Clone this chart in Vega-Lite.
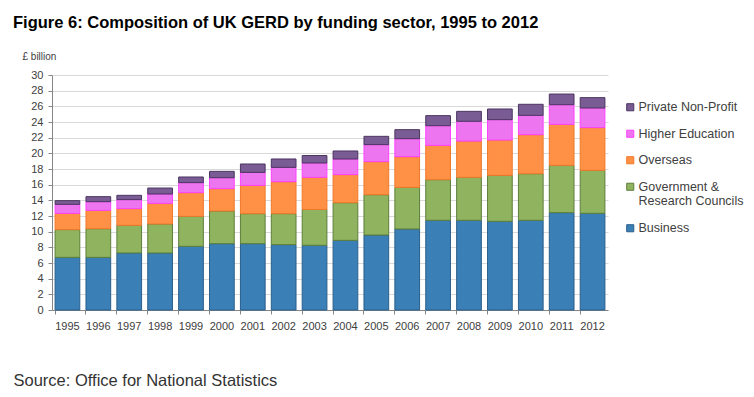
{
  "$schema": "https://vega.github.io/schema/vega-lite/v6.json",
  "width": 556,
  "height": 235,
  "autosize": "none",
  "padding": {"left": 52, "top": 75, "right": 146, "bottom": 87},
  "background": "#ffffff",
  "title": {
    "text": "Figure 6: Composition of UK GERD by funding sector, 1995 to 2012",
    "anchor": "start",
    "frame": "group",
    "dx": -39,
    "offset": 20,
    "font": "Liberation Sans",
    "fontSize": 16.5,
    "fontWeight": "bold",
    "color": "#000000"
  },
  "config": {
    "view": {"stroke": null},
    "font": "Liberation Sans"
  },
  "data": {
    "values": [
      {"year": "1995", "sector": "Business", "rank": 1, "value": 6.72},
      {"year": "1995", "sector": "Government & Research Councils", "rank": 2, "value": 3.54},
      {"year": "1995", "sector": "Overseas", "rank": 3, "value": 2.08},
      {"year": "1995", "sector": "Higher Education", "rank": 4, "value": 1.15},
      {"year": "1995", "sector": "Private Non-Profit", "rank": 5, "value": 0.47},
      {"year": "1996", "sector": "Business", "rank": 1, "value": 6.72},
      {"year": "1996", "sector": "Government & Research Councils", "rank": 2, "value": 3.66},
      {"year": "1996", "sector": "Overseas", "rank": 3, "value": 2.34},
      {"year": "1996", "sector": "Higher Education", "rank": 4, "value": 1.11},
      {"year": "1996", "sector": "Private Non-Profit", "rank": 5, "value": 0.64},
      {"year": "1997", "sector": "Business", "rank": 1, "value": 7.28},
      {"year": "1997", "sector": "Government & Research Councils", "rank": 2, "value": 3.53},
      {"year": "1997", "sector": "Overseas", "rank": 3, "value": 2.13},
      {"year": "1997", "sector": "Higher Education", "rank": 4, "value": 1.15},
      {"year": "1997", "sector": "Private Non-Profit", "rank": 5, "value": 0.55},
      {"year": "1998", "sector": "Business", "rank": 1, "value": 7.28},
      {"year": "1998", "sector": "Government & Research Councils", "rank": 2, "value": 3.70},
      {"year": "1998", "sector": "Overseas", "rank": 3, "value": 2.64},
      {"year": "1998", "sector": "Higher Education", "rank": 4, "value": 1.19},
      {"year": "1998", "sector": "Private Non-Profit", "rank": 5, "value": 0.76},
      {"year": "1999", "sector": "Business", "rank": 1, "value": 8.13},
      {"year": "1999", "sector": "Government & Research Councils", "rank": 2, "value": 3.83},
      {"year": "1999", "sector": "Overseas", "rank": 3, "value": 3.02},
      {"year": "1999", "sector": "Higher Education", "rank": 4, "value": 1.28},
      {"year": "1999", "sector": "Private Non-Profit", "rank": 5, "value": 0.72},
      {"year": "2000", "sector": "Business", "rank": 1, "value": 8.47},
      {"year": "2000", "sector": "Government & Research Councils", "rank": 2, "value": 4.17},
      {"year": "2000", "sector": "Overseas", "rank": 3, "value": 2.85},
      {"year": "2000", "sector": "Higher Education", "rank": 4, "value": 1.40},
      {"year": "2000", "sector": "Private Non-Profit", "rank": 5, "value": 0.81},
      {"year": "2001", "sector": "Business", "rank": 1, "value": 8.47},
      {"year": "2001", "sector": "Government & Research Councils", "rank": 2, "value": 3.83},
      {"year": "2001", "sector": "Overseas", "rank": 3, "value": 3.61},
      {"year": "2001", "sector": "Higher Education", "rank": 4, "value": 1.66},
      {"year": "2001", "sector": "Private Non-Profit", "rank": 5, "value": 1.07},
      {"year": "2002", "sector": "Business", "rank": 1, "value": 8.34},
      {"year": "2002", "sector": "Government & Research Councils", "rank": 2, "value": 3.96},
      {"year": "2002", "sector": "Overseas", "rank": 3, "value": 4.08},
      {"year": "2002", "sector": "Higher Education", "rank": 4, "value": 1.83},
      {"year": "2002", "sector": "Private Non-Profit", "rank": 5, "value": 1.07},
      {"year": "2003", "sector": "Business", "rank": 1, "value": 8.26},
      {"year": "2003", "sector": "Government & Research Councils", "rank": 2, "value": 4.57},
      {"year": "2003", "sector": "Overseas", "rank": 3, "value": 4.11},
      {"year": "2003", "sector": "Higher Education", "rank": 4, "value": 1.83},
      {"year": "2003", "sector": "Private Non-Profit", "rank": 5, "value": 0.95},
      {"year": "2004", "sector": "Business", "rank": 1, "value": 8.89},
      {"year": "2004", "sector": "Government & Research Councils", "rank": 2, "value": 4.81},
      {"year": "2004", "sector": "Overseas", "rank": 3, "value": 3.58},
      {"year": "2004", "sector": "Higher Education", "rank": 4, "value": 2.00},
      {"year": "2004", "sector": "Private Non-Profit", "rank": 5, "value": 1.02},
      {"year": "2005", "sector": "Business", "rank": 1, "value": 9.57},
      {"year": "2005", "sector": "Government & Research Councils", "rank": 2, "value": 5.15},
      {"year": "2005", "sector": "Overseas", "rank": 3, "value": 4.22},
      {"year": "2005", "sector": "Higher Education", "rank": 4, "value": 2.17},
      {"year": "2005", "sector": "Private Non-Profit", "rank": 5, "value": 1.06},
      {"year": "2006", "sector": "Business", "rank": 1, "value": 10.34},
      {"year": "2006", "sector": "Government & Research Councils", "rank": 2, "value": 5.32},
      {"year": "2006", "sector": "Overseas", "rank": 3, "value": 3.91},
      {"year": "2006", "sector": "Higher Education", "rank": 4, "value": 2.30},
      {"year": "2006", "sector": "Private Non-Profit", "rank": 5, "value": 1.15},
      {"year": "2007", "sector": "Business", "rank": 1, "value": 11.45},
      {"year": "2007", "sector": "Government & Research Councils", "rank": 2, "value": 5.19},
      {"year": "2007", "sector": "Overseas", "rank": 3, "value": 4.38},
      {"year": "2007", "sector": "Higher Education", "rank": 4, "value": 2.51},
      {"year": "2007", "sector": "Private Non-Profit", "rank": 5, "value": 1.28},
      {"year": "2008", "sector": "Business", "rank": 1, "value": 11.45},
      {"year": "2008", "sector": "Government & Research Councils", "rank": 2, "value": 5.49},
      {"year": "2008", "sector": "Overseas", "rank": 3, "value": 4.63},
      {"year": "2008", "sector": "Higher Education", "rank": 4, "value": 2.52},
      {"year": "2008", "sector": "Private Non-Profit", "rank": 5, "value": 1.27},
      {"year": "2009", "sector": "Business", "rank": 1, "value": 11.32},
      {"year": "2009", "sector": "Government & Research Councils", "rank": 2, "value": 5.87},
      {"year": "2009", "sector": "Overseas", "rank": 3, "value": 4.51},
      {"year": "2009", "sector": "Higher Education", "rank": 4, "value": 2.60},
      {"year": "2009", "sector": "Private Non-Profit", "rank": 5, "value": 1.36},
      {"year": "2010", "sector": "Business", "rank": 1, "value": 11.45},
      {"year": "2010", "sector": "Government & Research Councils", "rank": 2, "value": 5.95},
      {"year": "2010", "sector": "Overseas", "rank": 3, "value": 4.98},
      {"year": "2010", "sector": "Higher Education", "rank": 4, "value": 2.47},
      {"year": "2010", "sector": "Private Non-Profit", "rank": 5, "value": 1.41},
      {"year": "2011", "sector": "Business", "rank": 1, "value": 12.43},
      {"year": "2011", "sector": "Government & Research Councils", "rank": 2, "value": 6.04},
      {"year": "2011", "sector": "Overseas", "rank": 3, "value": 5.23},
      {"year": "2011", "sector": "Higher Education", "rank": 4, "value": 2.51},
      {"year": "2011", "sector": "Private Non-Profit", "rank": 5, "value": 1.36},
      {"year": "2012", "sector": "Business", "rank": 1, "value": 12.34},
      {"year": "2012", "sector": "Government & Research Councils", "rank": 2, "value": 5.49},
      {"year": "2012", "sector": "Overseas", "rank": 3, "value": 5.45},
      {"year": "2012", "sector": "Higher Education", "rank": 4, "value": 2.51},
      {"year": "2012", "sector": "Private Non-Profit", "rank": 5, "value": 1.32}
    ]
  },
  "mark": {"type": "bar", "strokeWidth": 1},
  "encoding": {
    "x": {
      "field": "year",
      "type": "ordinal",
      "scale": {"paddingInner": 0.2, "paddingOuter": 0.1},
      "axis": {
        "title": "Source: Office for National Statistics",
        "titleX": -39,
        "titleY": 70,
        "titleAlign": "left",
        "titleBaseline": "middle",
        "titleFontSize": 16.5,
        "titleFontWeight": "normal",
        "titleColor": "#333333",
        "titleFont": "Liberation Sans",
        "labelAngle": 0,
        "labelFontSize": 11,
        "labelColor": "#404040",
        "labelFont": "Liberation Sans",
        "labelPadding": 6,
        "tickSize": 4,
        "tickColor": "#868686",
        "domainColor": "#868686",
        "bandPosition": 0
      }
    },
    "y": {
      "field": "value",
      "type": "quantitative",
      "aggregate": "sum",
      "stack": "zero",
      "scale": {"domain": [0, 30], "nice": false},
      "axis": {
        "title": "£ billion",
        "titleAngle": 0,
        "titleX": -30,
        "titleY": -19,
        "titleAlign": "left",
        "titleBaseline": "middle",
        "titleFontSize": 10,
        "titleFontWeight": "normal",
        "titleColor": "#404040",
        "values": [0, 2, 4, 6, 8, 10, 12, 14, 16, 18, 20, 22, 24, 26, 28, 30],
        "labelFontSize": 11,
        "labelColor": "#404040",
        "labelPadding": 5,
        "tickSize": 4,
        "tickColor": "#868686",
        "domainColor": "#868686",
        "gridColor": "#D9D9D9",
        "gridWidth": 1
      }
    },
    "color": {
      "field": "sector",
      "type": "nominal",
      "scale": {
        "domain": ["Private Non-Profit", "Higher Education", "Overseas", "Government & Research Councils", "Business"],
        "range": ["#7A5C94", "#EE75F0", "#FF9146", "#8FB35E", "#3A7FB6"]
      },
      "legend": {
        "title": null,
        "orient": "none",
        "legendX": 572,
        "legendY": 26,
        "symbolType": "square",
        "symbolSize": 50,
        "symbolStrokeWidth": 1,
        "symbolStrokeColor": "#404040",
        "labelFontSize": 12.5,
        "labelColor": "#404040",
        "labelFont": "Liberation Sans",
        "labelOffset": 2,
        "labelLimit": 200,
        "rowPadding": 13.5,
        "labelExpr": "datum.label == 'Government & Research Councils' ? ['Government &', 'Research Councils'] : datum.label"
      }
    },
    "stroke": {
      "field": "sector",
      "type": "nominal",
      "scale": {
        "domain": ["Private Non-Profit", "Higher Education", "Overseas", "Government & Research Councils", "Business"],
        "range": ["#4A3560", "#FF40FF", "#F07828", "#5E7F3A", "#2A5F8C"]
      },
      "legend": null
    },
    "order": {"field": "rank", "type": "quantitative", "sort": "ascending"}
  }
}
